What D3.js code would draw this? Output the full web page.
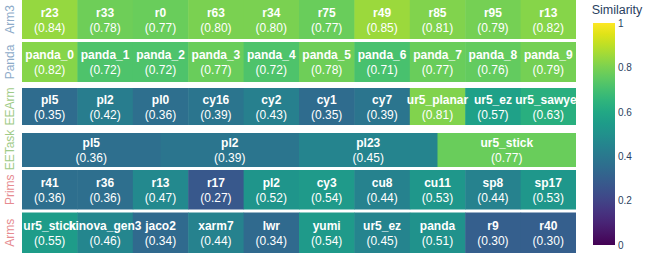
<!DOCTYPE html>
<html>
<head>
<meta charset="utf-8">
<script src="https://cdn.jsdelivr.net/npm/d3@7"></script>
<style>
  body { margin: 0; background: #fff; }
  svg { display: block; font-family: "Liberation Sans", Arial, sans-serif; }
</style>
</head>
<body>
<div id="chart"></div>
<script>
// row groups, top to bottom
const rowNames = ["Arm3", "Panda", "EEArm", "EETask", "Prims", "Arms"];
const rowLabelColors = ["#8dabc9", "#8dabc9", "#9fcb88", "#9fcb88", "#e68b90", "#e68b90"];

const arm3Labels = ["r23", "r33", "r0", "r63", "r34", "r75", "r49", "r85", "r95", "r13"];
const arm3Values = [0.84, 0.78, 0.77, 0.80, 0.80, 0.77, 0.85, 0.81, 0.79, 0.82];

const pandaLabels = ["panda_0", "panda_1", "panda_2", "panda_3", "panda_4",
  "panda_5", "panda_6", "panda_7", "panda_8", "panda_9"];
const pandaValues = [0.82, 0.72, 0.72, 0.77, 0.72, 0.78, 0.71, 0.77, 0.76, 0.79];

const eeArmLabels = ["pl5", "pl2", "pl0", "cy16", "cy2", "cy1", "cy7",
  "ur5_planar", "ur5_ez", "ur5_sawyer"];
const eeArmValues = [0.35, 0.42, 0.36, 0.39, 0.43, 0.35, 0.39, 0.81, 0.57, 0.63];

const eeTaskLabels = ["pl5", "pl2", "pl23", "ur5_stick"];
const eeTaskValues = [0.36, 0.39, 0.45, 0.77];

const primsLabels = ["r41", "r36", "r13", "r17", "pl2", "cy3", "cu8", "cu11", "sp8", "sp17"];
const primsValues = [0.36, 0.36, 0.47, 0.27, 0.52, 0.54, 0.44, 0.53, 0.44, 0.53];

const armsLabels = ["ur5_stick", "kinova_gen3", "jaco2", "xarm7", "lwr", "yumi",
  "ur5_ez", "panda", "r9", "r40"];
const armsValues = [0.55, 0.46, 0.34, 0.44, 0.34, 0.54, 0.45, 0.51, 0.30, 0.30];

const colorbarTicks = [0, 0.2, 0.4, 0.6, 0.8, 1];

const rows = [
  [arm3Labels, arm3Values],
  [pandaLabels, pandaValues],
  [eeArmLabels, eeArmValues],
  [eeTaskLabels, eeTaskValues],
  [primsLabels, primsValues],
  [armsLabels, armsValues],
];

// layout
const width = 648, height = 253;
const plotLeft = 22, plotRight = 576;
const rowBands = [[0, 39], [42, 82], [88, 125], [133, 167], [170, 209.5], [212.5, 253]];

const color = d3.scaleSequential(d3.interpolateViridis).domain([0, 1]);

const svg = d3.select("#chart")
  .append("svg")
  .attr("width", width)
  .attr("height", height);

svg.append("clipPath")
  .attr("id", "plot-clip")
  .append("rect")
  .attr("x", plotLeft)
  .attr("y", 0)
  .attr("width", plotRight - plotLeft)
  .attr("height", height);

const plot = svg.append("g").attr("clip-path", "url(#plot-clip)");

rows.forEach(([labels, values], i) => {
  const [y0, y1] = rowBands[i];
  const yMid = (y0 + y1) / 2;
  const x = d3.scaleBand().domain(d3.range(labels.length)).range([plotLeft, plotRight]);

  const cells = plot.append("g").attr("class", "row-" + rowNames[i])
    .selectAll("g")
    .data(values.map((v, j) => ({ label: labels[j], value: v, j })))
    .join("g");

  cells.append("rect")
    .attr("x", (d) => x(d.j))
    .attr("y", y0)
    .attr("width", x.bandwidth() + 0.5)
    .attr("height", y1 - y0)
    .attr("fill", (d) => color(d.value));

  // row label on the left
  svg.append("text")
    .attr("transform", `translate(13.5, ${yMid}) rotate(-90)`)
    .attr("text-anchor", "middle")
    .style("font-size", "12px")
    .style("fill", rowLabelColors[i])
    .text(rowNames[i]);
});

// text drawn after all cells so overflowing labels sit on top
rows.forEach(([labels, values], i) => {
  const [y0, y1] = rowBands[i];
  const yMid = (y0 + y1) / 2;
  const x = d3.scaleBand().domain(d3.range(labels.length)).range([plotLeft, plotRight]);
  const g = plot.append("g");
  labels.forEach((name, j) => {
    const cx = x(j) + x.bandwidth() / 2;
    g.append("text")
      .attr("x", cx)
      .attr("y", yMid - 7)
      .attr("dy", "0.35em")
      .attr("text-anchor", "middle")
      .style("font-size", "12px")
      .style("font-weight", "bold")
      .style("fill", "#fff")
      .text(name);
    g.append("text")
      .attr("x", cx)
      .attr("y", yMid + 8)
      .attr("dy", "0.35em")
      .attr("text-anchor", "middle")
      .style("font-size", "12px")
      .style("fill", "#fff")
      .text(`(${values[j].toFixed(2)})`);
  });
});

// colorbar
const cbX = 593, cbW = 22, cbTop = 23, cbBottom = 245;
const grad = svg.append("defs").append("linearGradient")
  .attr("id", "viridis-grad")
  .attr("x1", 0).attr("y1", 1).attr("x2", 0).attr("y2", 0);
d3.range(0, 1.0001, 0.05).forEach((t) => {
  grad.append("stop").attr("offset", t).attr("stop-color", color(t));
});

svg.append("rect")
  .attr("x", cbX)
  .attr("y", cbTop)
  .attr("width", cbW)
  .attr("height", cbBottom - cbTop)
  .attr("fill", "url(#viridis-grad)");

const cbScale = d3.scaleLinear().domain([0, 1]).range([cbBottom, cbTop]);
const cbAxis = svg.append("g")
  .attr("transform", `translate(${cbX + cbW}, 0)`)
  .call(d3.axisRight(cbScale).tickValues(colorbarTicks).tickSize(0).tickPadding(3)
    .tickFormat((d) => String(+d.toFixed(1))));
cbAxis.select(".domain").remove();
cbAxis.selectAll("text")
  .style("font-family", "'Liberation Sans', Arial, sans-serif")
  .style("font-size", "10px")
  .style("fill", "#2a3f5f");

svg.append("text")
  .attr("x", 617)
  .attr("y", 10)
  .attr("dy", "0.35em")
  .attr("text-anchor", "middle")
  .style("font-size", "12.5px")
  .style("fill", "#2a3f5f")
  .text("Similarity");
</script>
</body>
</html>
